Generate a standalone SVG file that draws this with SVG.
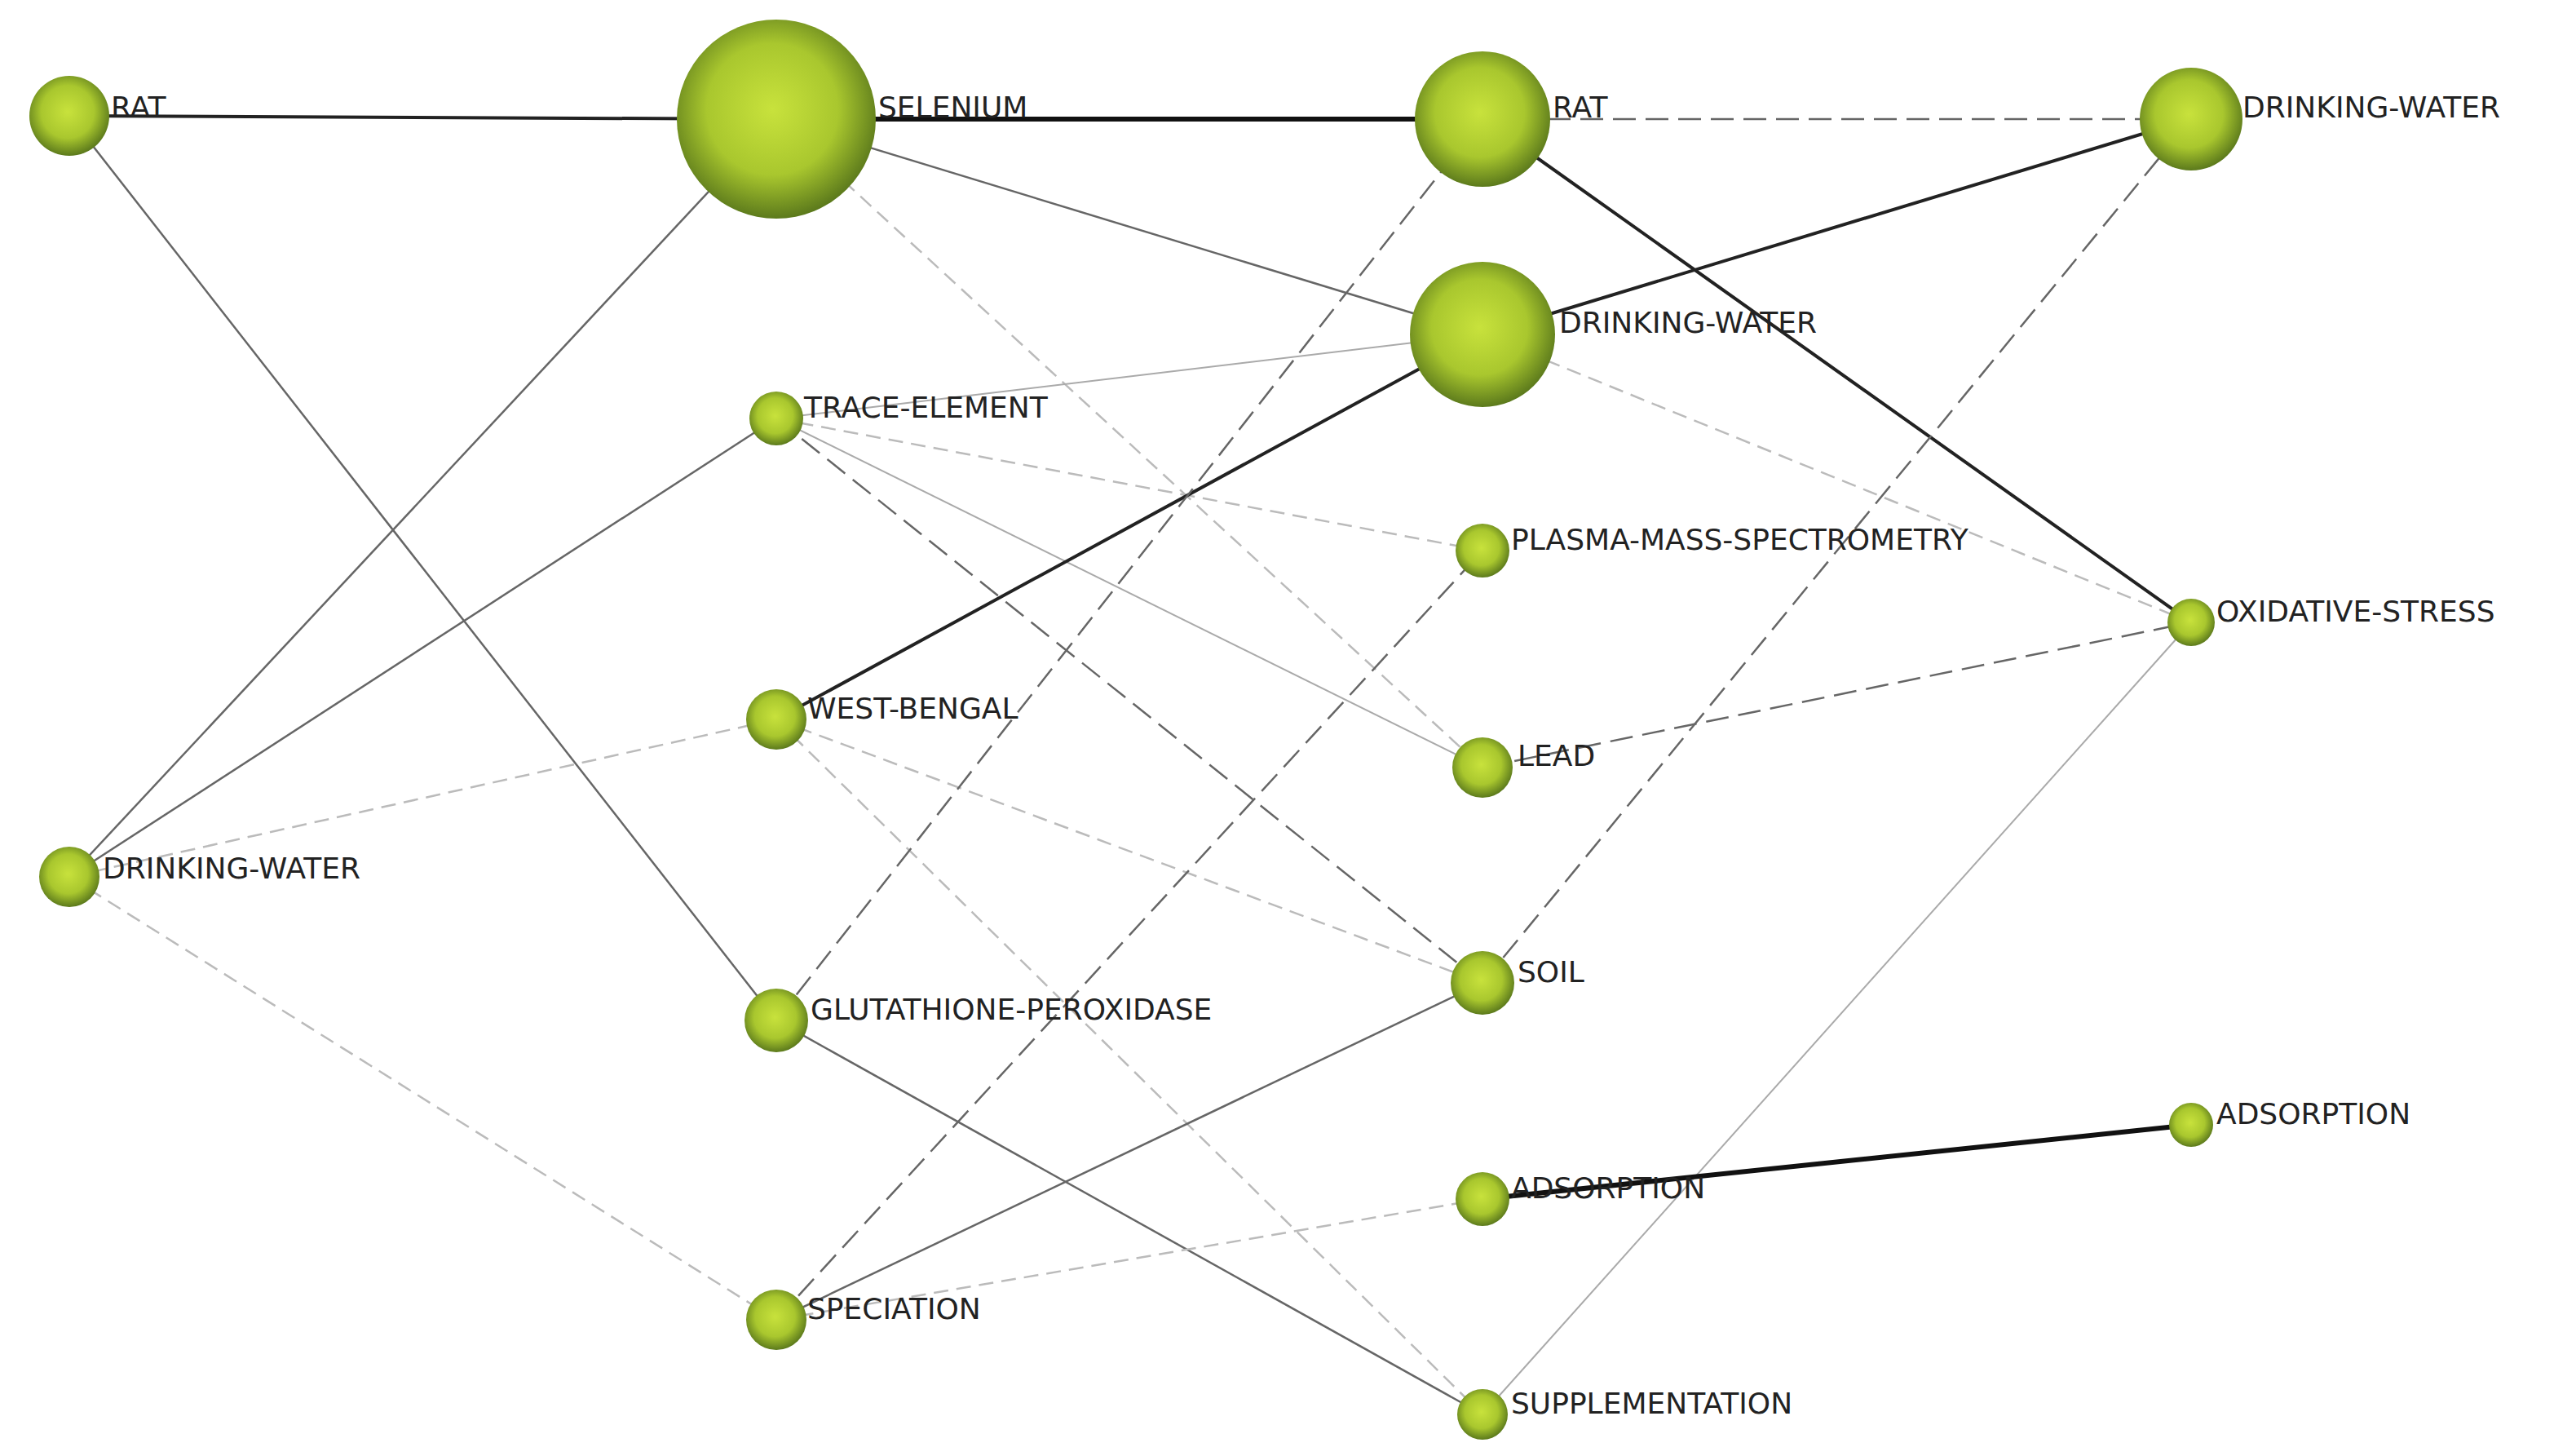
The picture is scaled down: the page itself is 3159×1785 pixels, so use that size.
<svg xmlns="http://www.w3.org/2000/svg" width="3159" height="1785" viewBox="0 0 3159 1785">
<style>
.n{fill:url(#g)}
text{font-family:"DejaVu Sans","Liberation Sans",sans-serif;font-size:36px;fill:#222}
line{fill:none}
.s1{stroke:#111;stroke-width:6}
.s2{stroke:#222;stroke-width:4}
.sg{stroke:#666;stroke-width:2.5}
.sl{stroke:#aaa;stroke-width:2}
.dd{stroke:#666;stroke-width:2.5;stroke-dasharray:28 12}
.dl{stroke:#bbb;stroke-width:2.5;stroke-dasharray:18 10}
</style>
<defs>
<radialGradient id="g" cx="0.48" cy="0.45" r="0.55">
<stop offset="0" stop-color="#c8e23c"/>
<stop offset="0.6" stop-color="#a9c72e"/>
<stop offset="1" stop-color="#5c7a1c"/>
</radialGradient>
</defs>
<rect width="3159" height="1785" fill="#fff"/>
<g id="connectors">
<line class="s2" x1="85" y1="142" x2="952" y2="146"/>
<line class="sg" x1="85" y1="142" x2="952" y2="1251"/>
<line class="sg" x1="85" y1="1075" x2="952" y2="146"/>
<line class="sg" x1="85" y1="1075" x2="952" y2="513"/>
<line class="dl" x1="85" y1="1075" x2="952" y2="882"/>
<line class="dl" x1="85" y1="1075" x2="952" y2="1618"/>
<line class="s1" x1="952" y1="146" x2="1818" y2="146"/>
<line class="sg" x1="952" y1="146" x2="1818" y2="410"/>
<line class="dl" x1="952" y1="146" x2="1818" y2="941"/>
<line class="sl" x1="952" y1="513" x2="1818" y2="410"/>
<line class="dl" x1="952" y1="513" x2="1818" y2="675"/>
<line class="sl" x1="952" y1="513" x2="1818" y2="941"/>
<line class="dd" x1="952" y1="513" x2="1818" y2="1205"/>
<line class="s2" x1="952" y1="882" x2="1818" y2="410"/>
<line class="dl" x1="952" y1="882" x2="1818" y2="1205"/>
<line class="dl" x1="952" y1="882" x2="1818" y2="1734"/>
<line class="dd" x1="952" y1="1251" x2="1818" y2="146"/>
<line class="sg" x1="952" y1="1251" x2="1818" y2="1734"/>
<line class="dd" x1="952" y1="1618" x2="1818" y2="675"/>
<line class="sg" x1="952" y1="1618" x2="1818" y2="1205"/>
<line class="dl" x1="952" y1="1618" x2="1818" y2="1470"/>
<line class="dd" x1="1818" y1="146" x2="2687" y2="146"/>
<line class="s2" x1="1818" y1="146" x2="2687" y2="763"/>
<line class="s2" x1="1818" y1="410" x2="2687" y2="146"/>
<line class="dl" x1="1818" y1="410" x2="2687" y2="763"/>
<line class="dd" x1="1818" y1="941" x2="2687" y2="763"/>
<line class="dd" x1="1818" y1="1205" x2="2687" y2="146"/>
<line class="sl" x1="1818" y1="1734" x2="2687" y2="763"/>
<line class="s1" x1="1818" y1="1470" x2="2687" y2="1379"/>
</g>
<g id="n-rat1"><circle class="n" cx="85" cy="142" r="49"/><text x="136" y="144">RAT</text></g>
<g id="n-dw1"><circle class="n" cx="85" cy="1075" r="37"/><text x="126" y="1077">DRINKING-WATER</text></g>
<g id="n-selenium"><circle class="n" cx="952" cy="146" r="122"/><text x="1077" y="144">SELENIUM</text></g>
<g id="n-trace"><circle class="n" cx="952" cy="513" r="33"/><text x="986" y="512">TRACE-ELEMENT</text></g>
<g id="n-wb"><circle class="n" cx="952" cy="882" r="37"/><text x="990" y="881">WEST-BENGAL</text></g>
<g id="n-glut"><circle class="n" cx="952" cy="1251" r="39"/><text x="994" y="1250">GLUTATHIONE-PEROXIDASE</text></g>
<g id="n-spec"><circle class="n" cx="952" cy="1618" r="37"/><text x="990" y="1617">SPECIATION</text></g>
<g id="n-rat3"><circle class="n" cx="1818" cy="146" r="83"/><text x="1904" y="144">RAT</text></g>
<g id="n-dw3"><circle class="n" cx="1818" cy="410" r="89"/><text x="1912" y="408">DRINKING-WATER</text></g>
<g id="n-plasma"><circle class="n" cx="1818" cy="675" r="33"/><text x="1853" y="674">PLASMA-MASS-SPECTROMETRY</text></g>
<g id="n-lead"><circle class="n" cx="1818" cy="941" r="37"/><text x="1861" y="939">LEAD</text></g>
<g id="n-soil"><circle class="n" cx="1818" cy="1205" r="39"/><text x="1861" y="1204">SOIL</text></g>
<g id="n-ads3"><circle class="n" cx="1818" cy="1470" r="33"/><text x="1853" y="1469">ADSORPTION</text></g>
<g id="n-supp"><circle class="n" cx="1818" cy="1734" r="31"/><text x="1853" y="1733">SUPPLEMENTATION</text></g>
<g id="n-dw4"><circle class="n" cx="2687" cy="146" r="63"/><text x="2750" y="144">DRINKING-WATER</text></g>
<g id="n-ox"><circle class="n" cx="2687" cy="763" r="29"/><text x="2718" y="762">OXIDATIVE-STRESS</text></g>
<g id="n-ads4"><circle class="n" cx="2687" cy="1379" r="27"/><text x="2718" y="1378">ADSORPTION</text></g>
</svg>
